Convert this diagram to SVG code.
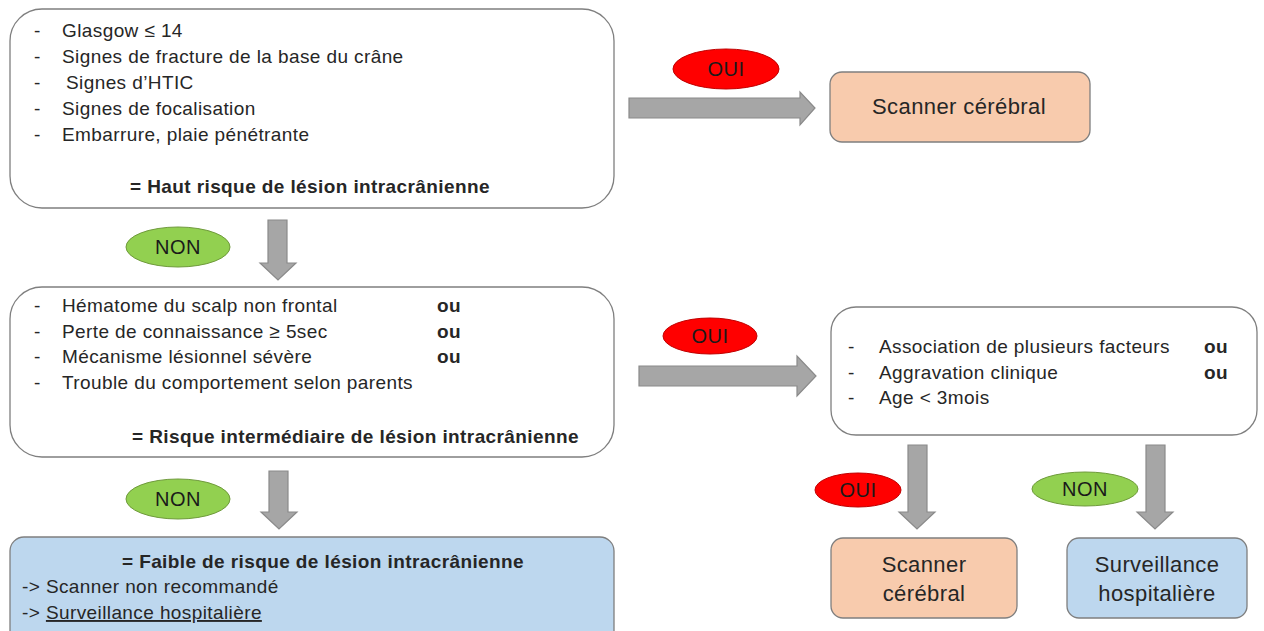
<svg xmlns="http://www.w3.org/2000/svg" width="1264" height="631" viewBox="0 0 1264 631">
<style>
text{font-family:"Liberation Sans",Arial,sans-serif;font-size:19px;letter-spacing:0.4px;fill:#262626}
.b{font-weight:bold}
.c{text-anchor:middle}
.box{fill:#fff;stroke:#7f7f7f;stroke-width:1.3}
.orange{fill:#F8CBAD;stroke:#7f7f7f;stroke-width:1.3}
.blue{fill:#BDD7EE;stroke:#7f7f7f;stroke-width:1.3}
.arr{fill:#A6A6A6;stroke:#8a8a8a;stroke-width:1.2}
.oui{fill:#FF0000;stroke:#c00000;stroke-width:1}
.non{fill:#92D050;stroke:#6f9a3c;stroke-width:1}
.lbl{font-size:20px;fill:#1a1a1a;letter-spacing:0.5px}
.big{font-size:22px;letter-spacing:0.4px}
</style>
<rect width="1264" height="631" fill="#fff"/>
<g id="connectors">
<path class="arr" d="M629,98 H800 V92 L815,108 L800,125 V118 H629 Z"/>
<path class="arr" d="M268,220 H287 V263 H296 L278,280 L260,263 H268 Z"/>
<path class="arr" d="M639,366 H797 V356 L816,376 L797,396 V386 H639 Z"/>
<path class="arr" d="M269,471 H288 V512 H297 L279,529 L261,512 H269 Z"/>
<path class="arr" d="M908,445 H927 V512 H935 L917,529 L899,512 H908 Z"/>
<path class="arr" d="M1146,445 H1165 V512 H1173 L1155,529 L1137,512 H1146 Z"/>
</g>
<g id="oui1"><ellipse class="oui" cx="726" cy="69" rx="53" ry="20"/><text class="c lbl" x="726" y="76">OUI</text></g>
<g id="non1"><ellipse class="non" cx="178" cy="247" rx="52" ry="20"/><text class="c lbl" x="178" y="254">NON</text></g>
<g id="oui2"><ellipse class="oui" cx="710" cy="336" rx="47" ry="18"/><text class="c lbl" x="710" y="343">OUI</text></g>
<g id="non2"><ellipse class="non" cx="178" cy="499" rx="52" ry="20"/><text class="c lbl" x="178" y="506">NON</text></g>
<g id="oui3"><ellipse class="oui" cx="858" cy="490" rx="43" ry="17"/><text class="c lbl" x="858" y="497">OUI</text></g>
<g id="non3"><ellipse class="non" cx="1085" cy="489" rx="53" ry="17"/><text class="c lbl" x="1085" y="496">NON</text></g>
<g id="box1">
<rect class="box" x="10" y="9" width="604" height="199" rx="32"/>
<text x="34" y="37">-</text><text x="62" y="37">Glasgow ≤ 14</text>
<text x="34" y="63">-</text><text x="62" y="63">Signes de fracture de la base du crâne</text>
<text x="34" y="89">-</text><text x="66" y="89">Signes d’HTIC</text>
<text x="34" y="115">-</text><text x="62" y="115">Signes de focalisation</text>
<text x="34" y="141">-</text><text x="62" y="141">Embarrure, plaie pénétrante</text>
<text class="b" x="130" y="193">= Haut risque de lésion intracrânienne</text>
</g>
<g id="scanner1">
<rect class="orange" x="830" y="72" width="260" height="70" rx="12"/>
<text class="c big" x="959" y="114">Scanner cérébral</text>
</g>
<g id="box2">
<rect class="box" x="10" y="287" width="604" height="170" rx="32"/>
<text x="34" y="312">-</text><text x="62" y="312">Hématome du scalp non frontal</text><text class="b" x="437" y="312">ou</text>
<text x="34" y="338">-</text><text x="62" y="338">Perte de connaissance ≥ 5sec</text><text class="b" x="437" y="338">ou</text>
<text x="34" y="363">-</text><text x="62" y="363">Mécanisme lésionnel sévère</text><text class="b" x="437" y="363">ou</text>
<text x="34" y="389">-</text><text x="62" y="389">Trouble du comportement selon parents</text>
<text class="b" x="132" y="443">= Risque intermédiaire de lésion intracrânienne</text>
</g>
<g id="box4">
<rect class="box" x="831" y="307" width="426" height="128" rx="25"/>
<text x="848" y="353">-</text><text x="879" y="353">Association de plusieurs facteurs</text><text class="b" x="1204" y="353">ou</text>
<text x="848" y="379">-</text><text x="879" y="379">Aggravation clinique</text><text class="b" x="1204" y="379">ou</text>
<text x="848" y="404">-</text><text x="879" y="404">Age &lt; 3mois</text>
</g>
<g id="box3">
<rect class="blue" x="10" y="537" width="604" height="110" rx="14"/>
<text class="b c" x="323" y="568">= Faible de risque de lésion intracrânienne</text>
<text x="22" y="593">-&gt; Scanner non recommandé</text>
<text x="22" y="619">-&gt; <tspan text-decoration="underline">Surveillance hospitalière</tspan></text>
</g>
<g id="scanner2">
<rect class="orange" x="831" y="538" width="186" height="80" rx="12"/>
<text class="c big" x="924" y="572">Scanner</text>
<text class="c big" x="924" y="601">cérébral</text>
</g>
<g id="surveillance">
<rect class="blue" x="1067" y="538" width="180" height="80" rx="12"/>
<text class="c big" x="1157" y="572">Surveillance</text>
<text class="c big" x="1157" y="601">hospitalière</text>
</g>
</svg>
